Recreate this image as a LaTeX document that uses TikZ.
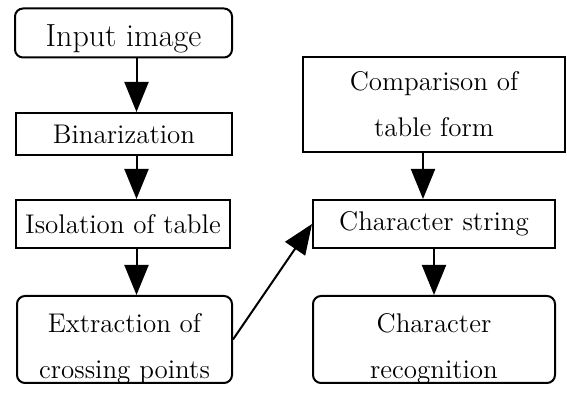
\documentclass[tikz,border=0pt]{standalone}
\usepackage{tikz}
\usetikzlibrary{arrows.meta}

\begin{document}
\begin{tikzpicture}[x=0.5pt, y=-0.5pt,
        stepbox/.style={draw, line width=1pt, inner sep=0pt, align=center,
                        font=\fontsize{13.5}{23}\selectfont},
        roundbox/.style={stepbox, rounded corners=4pt},
        twoline/.style={text height=41pt, text depth=2pt},
        flow/.style={line width=1pt, -{Triangle[width=12pt, length=15pt]}}]
            \useasboundingbox                                         (0,0) rectangle (567,394);
            \node[roundbox, minimum width=108.5pt, minimum height=24.5pt, text height=16pt, text depth=2pt,
                  font=\fontsize{16}{18}\selectfont]        (in)  at (123.5, 33.0) {Input image};
            \node[stepbox,  minimum width=108pt,   minimum height=21pt]   (bin) at (124.0,134.0) {Binarization};
            \node[stepbox,  minimum width=107pt,   minimum height=24pt]   (iso) at (123.0,224.0) {Isolation of table};
            \node[roundbox, twoline, minimum width=107.5pt, minimum height=43.5pt] (ext) at (124.5,339.5) {Extraction of\\crossing points};
            \node[stepbox,  minimum width=131pt,   minimum height=47.5pt] (cmp) at (434.0,104.5) {Comparison of\\table form};
            \node[stepbox,  minimum width=121pt,   minimum height=24pt]   (str) at (434.0,224.0) {Character string};
            \node[roundbox, twoline, minimum width=121pt, minimum height=43.5pt] (rec) at (434.0,339.5) {Character\\recognition};
            \draw[flow] ([xshift=6.5pt]in.south)   -- ([xshift=6.5pt]in.south |- bin.north);
            \draw[flow] ([xshift=6.5pt]in.south |- bin.south) -- ([xshift=6.5pt]in.south |- iso.north);
            \draw[flow] ([xshift=6.5pt]in.south |- iso.south) -- ([xshift=6.5pt]in.south |- ext.north);
            \draw[flow] (ext.east)                 -- (str.west);
            \draw[flow] ([xshift=-5.5pt]cmp.south) -- ([xshift=-5.5pt]cmp.south |- str.north);
            \draw[flow] (str.south)                -- (rec.north);
        \end{tikzpicture}
\end{document}
